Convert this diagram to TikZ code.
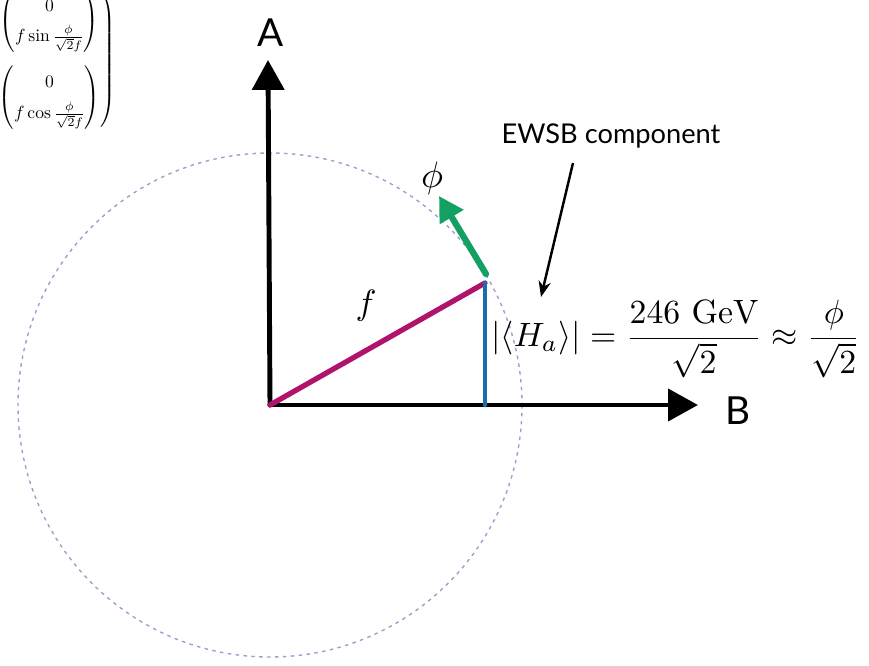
\documentclass[tikz,border=0pt]{standalone}
\usepackage{amsmath}
\usepackage{fontspec}
\newfontfamily\axisfont{Lato}
\usetikzlibrary{arrows.meta}
\definecolor{circlecol}{HTML}{A49CCF}
\definecolor{magentacol}{HTML}{B0136C}
\definecolor{bluecol}{HTML}{1A6EAE}
\definecolor{greencol}{HTML}{12A163}
\tikzset{
  axis/.style={line width=2.8pt, line cap=round, -{Triangle[length=17pt,width=18pt]}},
  axislabel/.style={font=\axisfont\fontsize{22}{24}\selectfont, inner sep=0pt},
  pointer/.style={line width=1.4pt, -{Stealth[length=9pt,width=7pt]}},
}
\begin{document}
\begin{tikzpicture}[x=0.02cm,y=-0.02cm]
\useasboundingbox (0,0) rectangle (869,666);
% matrix (cut off at top left)
\node[anchor=north east, inner sep=0pt] (mat) at (116,-11) {\renewcommand{\arraystretch}{1.45}$\left(\begin{matrix}\begin{pmatrix}0\\ f\sin\frac{\phi}{\sqrt{2}f}\end{pmatrix}\\[18pt] \begin{pmatrix}0\\ f\cos\frac{\phi}{\sqrt{2}f}\end{pmatrix}\end{matrix}\right)$};
% circle
\coordinate (O) at (270,405);
\draw[circlecol, line width=0.8pt, dash pattern=on 2pt off 2.5pt] (O) circle (252);
% axes
\coordinate (Atip) at (268,60);
\coordinate (Btip) at (698,405);
\draw[axis] (O) -- (Atip);
\draw[axis] (O) -- (Btip);
\node[axislabel] (A) at (271,33) {A};
\node[axislabel] (B) at (738,411) {B};
% vectors
\coordinate (P) at (485,283);
\coordinate (Q) at (485,405);
\draw[magentacol, line width=3pt, line cap=round] (O) -- (P);
\draw[bluecol, line width=2.6pt, line cap=round] (P) -- (Q);
\coordinate (G0) at (486,274);
\coordinate (G1) at (439,196);
\draw[greencol, line width=3.6pt, line cap=round, -{Triangle[length=14pt,width=15pt]}] (G0) -- (G1);
% labels
\node[inner sep=0pt] (phi) at (432,178) {\scalebox{2.1}{$\phi$}};
\node[inner sep=0pt] (f) at (366,306) {\scalebox{2}{$f$}};
\node[inner sep=0pt, anchor=west] (eq) at (491,339) {\scalebox{1.92}{$\displaystyle |\langle H_a\rangle| = \frac{246\ \mathrm{GeV}}{\sqrt{2}} \approx \frac{\phi}{\sqrt{2}}$}};
\node[font=\axisfont\fontsize{15.5}{17}\selectfont, inner sep=0pt] (ewsb) at (611,136) {EWSB component};
\coordinate (E0) at (573,163);
\coordinate (E1) at (541,297);
\draw[pointer] (E0) -- (E1);
\end{tikzpicture}
\end{document}
